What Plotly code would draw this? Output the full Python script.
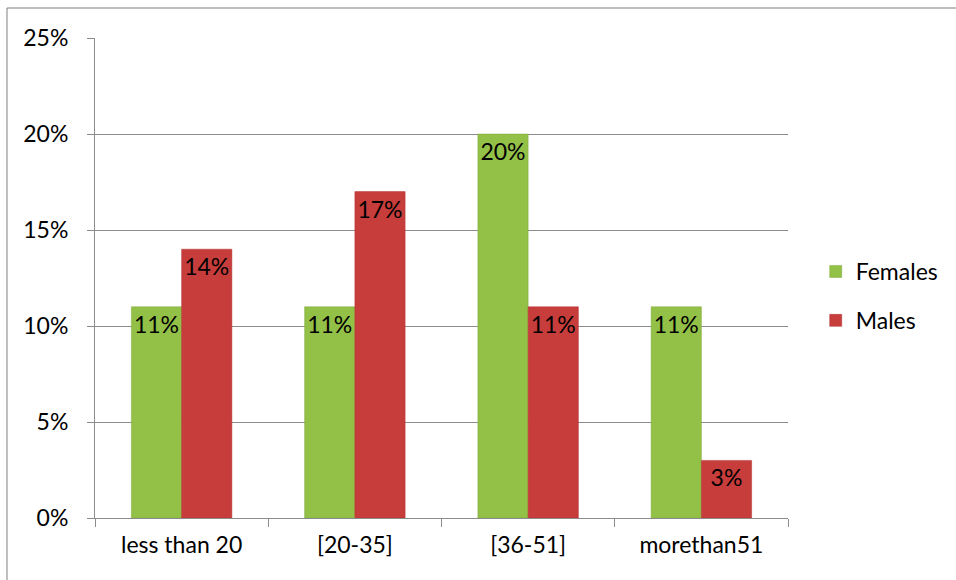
import plotly.graph_objects as go

categories = ["less than 20", "[20-35]", "[36-51]", "morethan51"]
females = [0.11, 0.11, 0.20, 0.11]
males = [0.14, 0.17, 0.11, 0.03]
y_ticks = [0, 0.05, 0.10, 0.15, 0.20, 0.25]
y_tick_text = ["0%", "5%", "10%", "15%", "20%", "25%"]

FONT = "Lato"
FS = 23
fig = go.Figure()
fig.add_trace(go.Bar(
    x=categories, y=females, name="Females",
    marker=dict(color="#93C047", line=dict(color="#7FA93A", width=0.5)),
    text=[f"{v*100:.0f}%" for v in females], textposition="inside", textangle=0,
    insidetextanchor="end", textfont=dict(color="black", size=FS, family=FONT),
    legendgroup="f",
))
fig.add_trace(go.Bar(
    x=categories, y=males, name="Males",
    marker=dict(color="#C73D3B", line=dict(color="#B03533", width=0.5)),
    text=[f"{v*100:.0f}%" for v in males], textposition="inside", textangle=0,
    insidetextanchor="end", textfont=dict(color="black", size=FS, family=FONT),
    legendgroup="m",
))

fig.update_layout(
    width=956, height=580,
    margin=dict(l=95, r=168, t=38, b=62, autoexpand=False),
    paper_bgcolor="white", plot_bgcolor="white",
    barmode="group", bargap=0.42, bargroupgap=0,
    font=dict(family=FONT, size=FS, color="black"),
    uniformtext=dict(minsize=FS, mode="show"),
    showlegend=True,
    legend=dict(x=1.04, xanchor="left", y=0.4625, yanchor="middle",
                font=dict(size=FS, family=FONT), tracegroupgap=16,
                traceorder="grouped", bgcolor="rgba(0,0,0,0)"),
    shapes=[dict(type="rect", xref="paper", yref="paper",
                 x0=-0.127, x1=2, y0=-1, y1=1.0625,
                 line=dict(color="#7F7F7F", width=1), fillcolor="rgba(0,0,0,0)",
                 layer="below")],
)
fig.update_yaxes(range=[0, 0.25], tickvals=y_ticks, ticktext=y_tick_text,
                 showgrid=True, gridcolor="#8C8C8C", gridwidth=1,
                 showline=True, linecolor="#8C8C8C", linewidth=1,
                 ticks="outside", ticklen=7, tickcolor="#8C8C8C",
                 ticklabelstandoff=14, zeroline=False,
                 tickfont=dict(size=FS, family=FONT))
fig.update_xaxes(showline=True, linecolor="#8C8C8C", linewidth=1,
                 ticks="outside", ticklen=8, tickcolor="#8C8C8C",
                 tickson="boundaries", ticklabelstandoff=6,
                 tickfont=dict(size=FS, family=FONT))

fig.write_html("out.html")
